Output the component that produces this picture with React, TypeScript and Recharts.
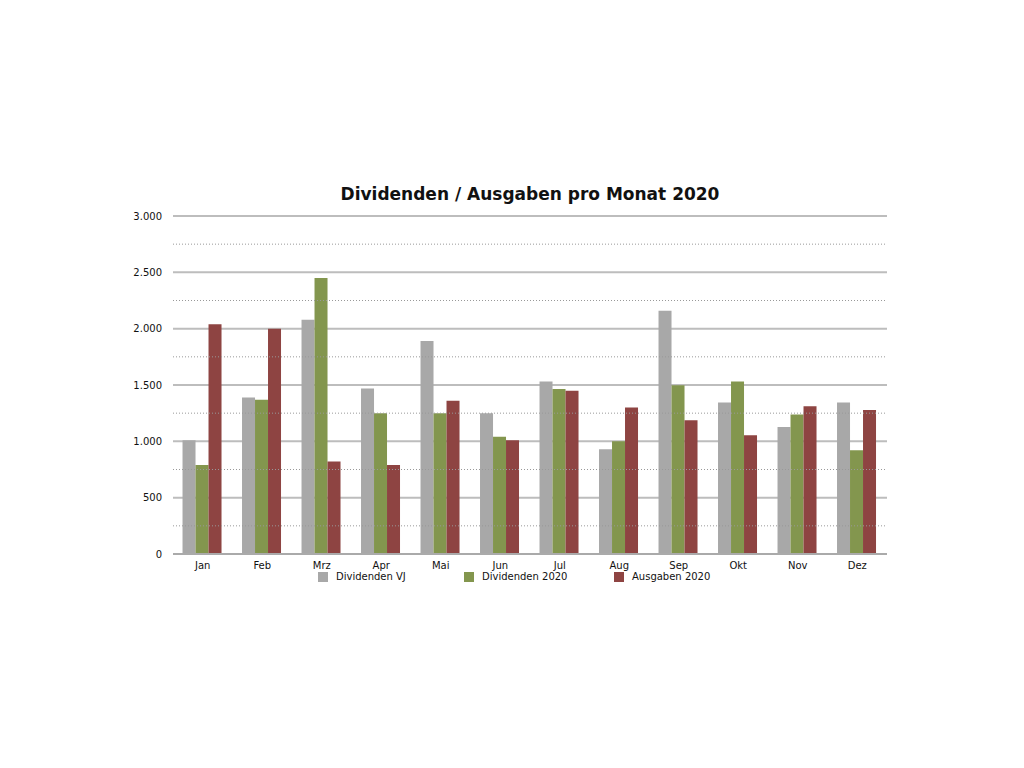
import React from "react";
import { BarChart, Bar, XAxis, YAxis, CartesianGrid, ReferenceLine } from "recharts";

const months = ["Jan", "Feb", "Mrz", "Apr", "Mai", "Jun", "Jul", "Aug", "Sep", "Okt", "Nov", "Dez"];
const dividendenVJ = [1010, 1390, 2080, 1470, 1890, 1250, 1530, 930, 2158, 1345, 1127, 1345];
const dividenden2020 = [790, 1370, 2450, 1250, 1250, 1040, 1464, 1000, 1497, 1530, 1239, 921];
const ausgaben2020 = [2040, 2000, 820, 790, 1360, 1010, 1448, 1300, 1188, 1055, 1312, 1279];
const yTicks = [0, 500, 1000, 1500, 2000, 2500, 3000];
const minorTicks = [250, 750, 1250, 1750, 2250, 2750];

const series = [
  { key: "vj", name: "Dividenden VJ", color: "#a8a8a8" },
  { key: "d20", name: "Dividenden 2020", color: "#83964e" },
  { key: "a20", name: "Ausgaben 2020", color: "#8e4442" },
];

const data = months.map((m, i) => ({
  month: m,
  vj: dividendenVJ[i],
  d20: dividenden2020[i],
  a20: ausgaben2020[i],
}));

const font = "'DejaVu Sans', sans-serif";
const fmt = (v: number) => v.toLocaleString("de-DE");

export default function App() {
  return (
    <div style={{ position: "relative", width: 1008, height: 752, fontFamily: font }}>
      <div
        style={{
          position: "absolute",
          top: 176,
          left: 0,
          width: 1044,
          textAlign: "center",
          fontSize: 17,
          fontWeight: "bold",
          color: "#111",
        }}
      >
        Dividenden / Ausgaben pro Monat 2020
      </div>
      <BarChart
        width={1008}
        height={752}
        data={data}
        margin={{ top: 208, right: 129, bottom: 176, left: 0 }}
        barCategoryGap="16%"
        barGap={0}
      >
        <CartesianGrid vertical={false} stroke="#bdbdbd" strokeWidth={2} />
        {minorTicks.map((t) => (
          <ReferenceLine key={t} y={t} stroke="#999" strokeDasharray="1 2" />
        ))}
        <XAxis
          dataKey="month"
          tickLine={false}
          stroke="#aaa"
          strokeWidth={2}
          tickSize={0}
          tickMargin={8}
          height={30}
          tick={{ fontSize: 10, fill: "#111", fontFamily: font }}
        />
        <YAxis
          width={165}
          domain={[0, 3000]}
          ticks={yTicks}
          axisLine={false}
          tickLine={false}
          tickSize={0}
          tickMargin={11}
          tickFormatter={fmt}
          tick={{ fontSize: 10, fill: "#111", fontFamily: font }}
        />
        {series.map((s) => (
          <Bar key={s.key} dataKey={s.key} name={s.name} fill={s.color} isAnimationActive={false} />
        ))}
      </BarChart>
      <div style={{ position: "absolute", top: 563, left: 0, width: 1008, height: 14 }}>
        {series.map((s, i) => (
          <div
            key={s.key}
            style={{
              position: "absolute",
              left: 310 + i * 146 + (i === 2 ? 4 : 0),
              top: 0,
              display: "flex",
              alignItems: "center",
              fontSize: 10,
              color: "#111",
            }}
          >
            <span style={{ width: 10, height: 10, background: s.color, marginRight: 8, display: "inline-block" }} />
            {s.name}
          </div>
        ))}
      </div>
    </div>
  );
}
